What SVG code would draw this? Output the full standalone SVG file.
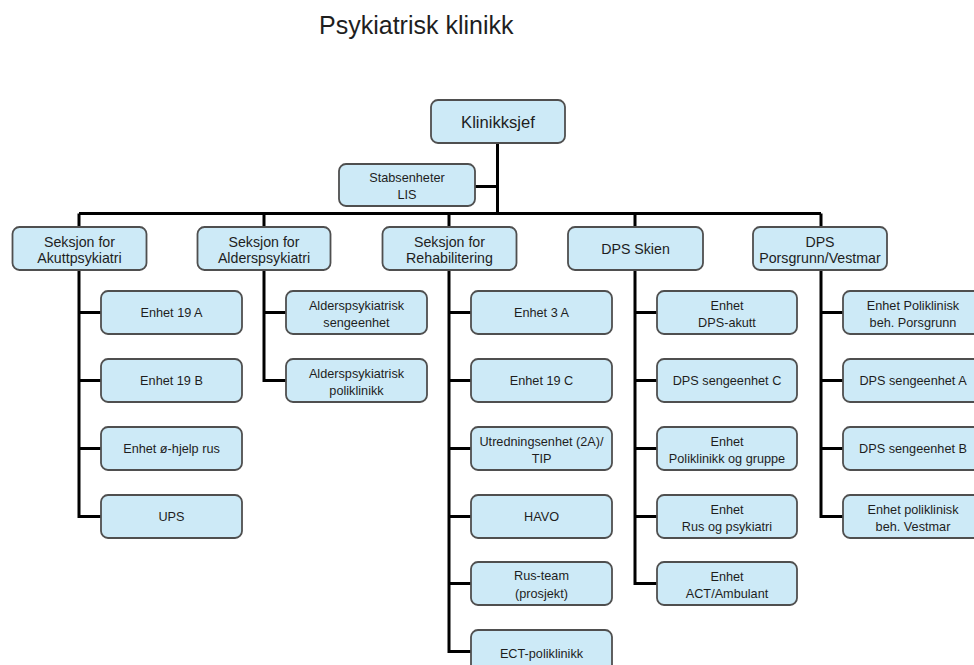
<svg xmlns="http://www.w3.org/2000/svg" width="974" height="665" viewBox="0 0 974 665">
<style>
.bg{fill:#ffffff}
.box{fill:#cdeaf7;stroke:#4f4f4f;stroke-width:1.8}
.t{font-family:"Liberation Sans",Arial,sans-serif;fill:#1e1e1e;text-anchor:middle}
.c{font-size:12.7px}
.s{font-size:14.2px}
.k{font-size:16.6px}
.title{font-family:"Liberation Sans",Arial,sans-serif;font-size:25px;fill:#1e1e1e}
.con{fill:none;stroke:#000;stroke-width:3}
</style>
<rect class="bg" x="0" y="0" width="974" height="665"/>
<text class="title" x="319" y="34">Psykiatrisk klinikk</text>

<g id="connectors">
<path class="con" d="M497.5,143 V213.5 M475,186.5 H497.5 M79,213.5 H821"/>
<path class="con" d="M79,213.5 V227 M264,213.5 V227 M449,213.5 V227 M635,213.5 V227 M821,213.5 V227"/>
<path class="con" d="M79,270 V312.5 H101 M79,380.5 H101 M79,448.5 H101 M79,312.5 V516.5 H101"/>
<path class="con" d="M264,270 V380.5 H286 M264,312.5 H286"/>
<path class="con" d="M449,270 V651.5 H471 M449,312.5 H471 M449,380.5 H471 M449,448.5 H471 M449,516.5 H471 M449,583.5 H471"/>
<path class="con" d="M635,270 V583.5 H657 M635,312.5 H657 M635,380.5 H657 M635,448.5 H657 M635,516.5 H657"/>
<path class="con" d="M821,270 V516.5 H843 M821,312.5 H843 M821,380.5 H843 M821,448.5 H843"/>
</g>

<g id="klinikksjef"><rect class="box" x="431" y="100" width="134" height="43" rx="7"/><text class="t k" x="498" y="127.5">Klinikksjef</text></g>
<g id="stabsenheter"><rect class="box" x="339" y="164" width="136" height="42" rx="7"/><text class="t c" x="407" y="182">Stabsenheter</text><text class="t c" x="407" y="198.5">LIS</text></g>

<g id="sek-akutt"><rect class="box" x="12.5" y="227" width="134" height="43" rx="7"/><text class="t s" x="79.5" y="246.5">Seksjon for</text><text class="t s" x="79.5" y="263">Akuttpsykiatri</text></g>
<g id="sek-alder"><rect class="box" x="197.5" y="227" width="133" height="43" rx="7"/><text class="t s" x="264" y="246.5">Seksjon for</text><text class="t s" x="264" y="263">Alderspsykiatri</text></g>
<g id="sek-rehab"><rect class="box" x="382.5" y="227" width="134" height="43" rx="7"/><text class="t s" x="449.5" y="246.5">Seksjon for</text><text class="t s" x="449.5" y="263">Rehabilitering</text></g>
<g id="dps-skien"><rect class="box" x="568" y="227" width="135" height="43" rx="7"/><text class="t s" x="635.5" y="254">DPS Skien</text></g>
<g id="dps-porsgrunn"><rect class="box" x="753" y="227" width="134" height="43" rx="7"/><text class="t s" x="820" y="246.5">DPS</text><text class="t s" x="820" y="263">Porsgrunn/Vestmar</text></g>

<g id="enhet-19a"><rect class="box" x="101" y="291" width="141" height="43" rx="7"/><text class="t c" x="171.5" y="317">Enhet 19 A</text></g>
<g id="enhet-19b"><rect class="box" x="101" y="359" width="141" height="43" rx="7"/><text class="t c" x="171.5" y="385">Enhet 19 B</text></g>
<g id="enhet-ohjelp"><rect class="box" x="101" y="427" width="141" height="43" rx="7"/><text class="t c" x="171.5" y="453">Enhet ø-hjelp rus</text></g>
<g id="ups"><rect class="box" x="101" y="495" width="141" height="43" rx="7"/><text class="t c" x="171.5" y="521">UPS</text></g>

<g id="alder-senge"><rect class="box" x="286" y="291" width="141" height="43" rx="7"/><text class="t c" x="356.5" y="309.5">Alderspsykiatrisk</text><text class="t c" x="356.5" y="326.5">sengeenhet</text></g>
<g id="alder-poli"><rect class="box" x="286" y="359" width="141" height="43" rx="7"/><text class="t c" x="356.5" y="377.5">Alderspsykiatrisk</text><text class="t c" x="356.5" y="394.5">poliklinikk</text></g>

<g id="enhet-3a"><rect class="box" x="471" y="291" width="141" height="43" rx="7"/><text class="t c" x="541.5" y="317">Enhet 3 A</text></g>
<g id="enhet-19c"><rect class="box" x="471" y="359" width="141" height="43" rx="7"/><text class="t c" x="541.5" y="385">Enhet 19 C</text></g>
<g id="utredning"><rect class="box" x="471" y="427" width="141" height="43" rx="7"/><text class="t c" x="541.5" y="445.5">Utredningsenhet (2A)/</text><text class="t c" x="541.5" y="462.5">TIP</text></g>
<g id="havo"><rect class="box" x="471" y="495" width="141" height="43" rx="7"/><text class="t c" x="541.5" y="521">HAVO</text></g>
<g id="rus-team"><rect class="box" x="471" y="562" width="141" height="43" rx="7"/><text class="t c" x="541.5" y="580">Rus-team</text><text class="t c" x="541.5" y="597.5">(prosjekt)</text></g>
<g id="ect"><rect class="box" x="471" y="630" width="141" height="43" rx="7"/><text class="t c" x="541.5" y="657.5">ECT-poliklinikk</text></g>

<g id="dps-akutt"><rect class="box" x="657" y="291" width="140" height="43" rx="7"/><text class="t c" x="727" y="309.5">Enhet</text><text class="t c" x="727" y="326.5">DPS-akutt</text></g>
<g id="dps-senge-c"><rect class="box" x="657" y="359" width="140" height="43" rx="7"/><text class="t c" x="727" y="385">DPS sengeenhet C</text></g>
<g id="poli-gruppe"><rect class="box" x="657" y="427" width="140" height="43" rx="7"/><text class="t c" x="727" y="445.5">Enhet</text><text class="t c" x="727" y="462.5">Poliklinikk og gruppe</text></g>
<g id="rus-psyk"><rect class="box" x="657" y="495" width="140" height="43" rx="7"/><text class="t c" x="727" y="513.5">Enhet</text><text class="t c" x="727" y="530.5">Rus og psykiatri</text></g>
<g id="act"><rect class="box" x="657" y="562" width="140" height="43" rx="7"/><text class="t c" x="727" y="580.5">Enhet</text><text class="t c" x="727" y="597.5">ACT/Ambulant</text></g>

<g id="poli-porsgrunn"><rect class="box" x="843" y="291" width="141" height="43" rx="7"/><text class="t c" x="913" y="309.5">Enhet Poliklinisk</text><text class="t c" x="913" y="326.5">beh. Porsgrunn</text></g>
<g id="dps-senge-a"><rect class="box" x="843" y="359" width="141" height="43" rx="7"/><text class="t c" x="913" y="385">DPS sengeenhet A</text></g>
<g id="dps-senge-b"><rect class="box" x="843" y="427" width="141" height="43" rx="7"/><text class="t c" x="913" y="453">DPS sengeenhet B</text></g>
<g id="poli-vestmar"><rect class="box" x="843" y="495" width="141" height="43" rx="7"/><text class="t c" x="913" y="513.5">Enhet poliklinisk</text><text class="t c" x="913" y="530.5">beh. Vestmar</text></g>
</svg>
